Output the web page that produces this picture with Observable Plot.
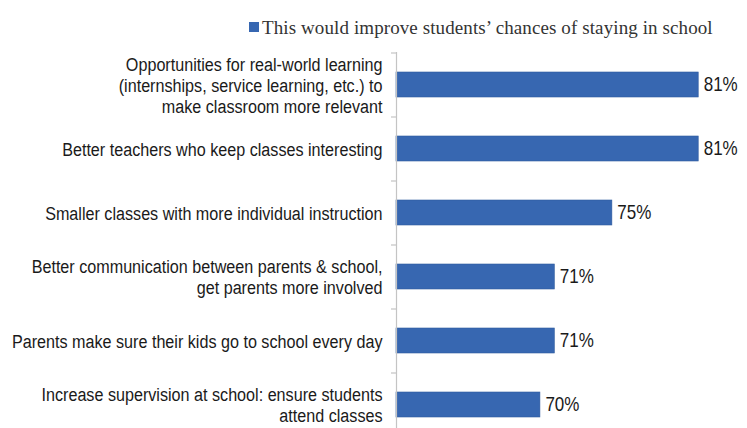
<!DOCTYPE html>
<html>
<head>
<meta charset="utf-8">
<script src="https://cdn.jsdelivr.net/npm/d3@7"></script>
<script src="https://cdn.jsdelivr.net/npm/@observablehq/plot@0.6"></script>
<style>
  html, body { margin: 0; padding: 0; background: #fff; }
  #legend {
    position: relative; height: 46px; width: 747px;
    font-family: "Liberation Serif", "DejaVu Serif", serif;
    font-size: 19px; color: #333;
  }
  #legend .sw { position: absolute; left: 249px; top: 22px; width: 10px; height: 10px; background: #3767b1; }
  #legend .lb { position: absolute; left: 262px; top: 17px; white-space: nowrap; letter-spacing: 0.1px; }
  #chart svg { display: block; }
</style>
</head>
<body>
<div id="legend"><span class="sw"></span><span class="lb" id="legendText"></span></div>
<div id="chart"></div>
<script>
const seriesName = "This would improve students’ chances of staying in school";
const categories = [
  "Opportunities for real-world learning\n(internships, service learning, etc.) to\nmake classroom more relevant",
  "Better teachers who keep classes interesting",
  "Smaller classes with more individual instruction",
  "Better communication between parents & school,\nget parents more involved",
  "Parents make sure their kids go to school every day",
  "Increase supervision at school: ensure students\nattend classes"
];
const values = [81, 81, 75, 71, 71, 70];
const valueLabels = ["81%", "81%", "75%", "71%", "71%", "70%"];
const baseline = 60;
const xMax = 83;

const data = categories.map((c, i) => ({category: c, value: values[i], label: valueLabels[i]}));
const blue = "#3767b1";
const labelFont = "'Liberation Sans', Arial, sans-serif";
const condense = 0.85;

document.getElementById("legendText").textContent = seriesName;

const chart = Plot.plot({
  width: 747,
  height: 382,
  marginLeft: 396,
  marginRight: 20,
  marginTop: 6,
  marginBottom: 0,
  x: {domain: [baseline, xMax], axis: null},
  y: {domain: categories, range: [6, 390], paddingInner: 0.61, paddingOuter: 0.305, axis: null},
  marks: [
    Plot.barX(data, {y: "category", x1: baseline, x2: "value", fill: blue, stroke: "#2f5c9f", strokeWidth: 0.6}),
    Plot.ruleX([baseline], {stroke: "#c4c4c4", strokeWidth: 1.2}),
    Plot.ruleY(categories, {y: d => d, x1: baseline, x2: baseline, insetLeft: -5, dy: -32, stroke: "#c4c4c4", strokeWidth: 1.2}),
    Plot.text(data, {y: "category", x: baseline, text: "category", textAnchor: "end", dx: -14, fontSize: 19, lineHeight: 1.1, fill: "#1a1a1a", fontFamily: labelFont}),
    Plot.text(data, {y: "category", x: "value", text: "label", textAnchor: "start", dx: 5, fontSize: 20, fill: "#1a1a1a", fontFamily: labelFont})
  ]
});
// condense label glyphs horizontally (reference uses a condensed typeface)
d3.select(chart).selectAll('g[aria-label="text"] text').each(function() {
  const t = this.getAttribute("transform") || "";
  this.setAttribute("transform", t + ` scale(${condense},1)`);
});
document.getElementById("chart").appendChild(chart);
</script>
</body>
</html>
